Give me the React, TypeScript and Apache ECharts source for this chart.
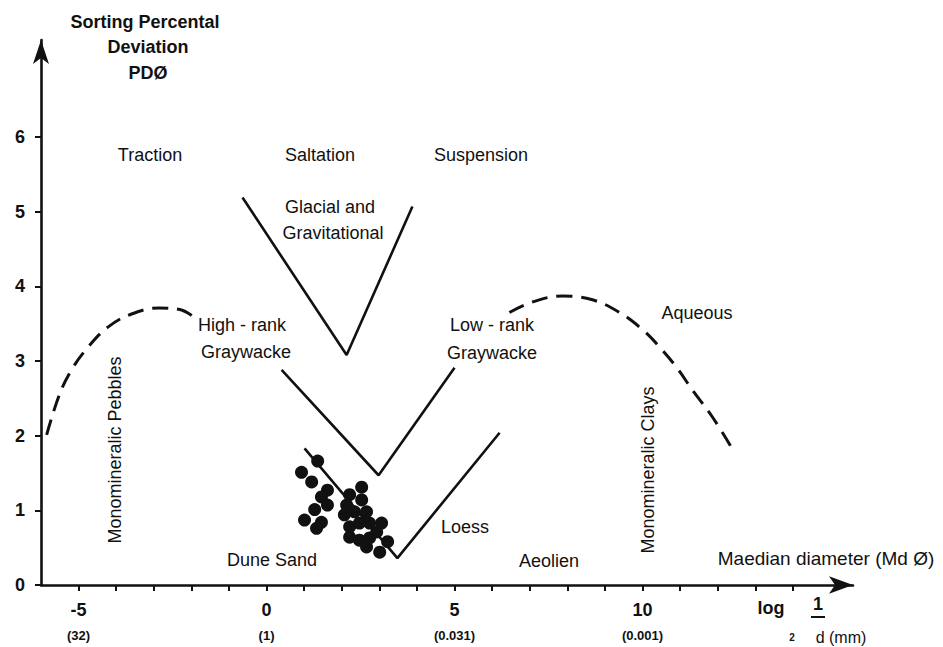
import React, { useEffect, useRef } from "react";
import * as echarts from "echarts";

// ---- data ----
const xTickValues = [-5, 0, 5, 10];
const xTickSub = ["(32)", "(1)", "(0.031)", "(0.001)"];
const xMinorTicks = [-5, -4, -3, -2, -1, 0, 1, 2, 3, 4, 5, 6, 7, 8, 9, 10, 11, 12, 13, 14];
const yTickValues = [0, 1, 2, 3, 4, 5, 6];

const glacialX = [-0.64, 2.13, 3.88];
const glacialY = [5.19, 3.08, 5.07];
const graywackeX = [0.4, 2.98, 5.0];
const graywackeY = [2.88, 1.47, 2.91];
const loessX = [1.01, 3.48, 6.2];
const loessY = [1.83, 0.36, 2.04];

const pebblesX = [-5.85, -5.51, -5.19, -4.76, -4.23, -3.59, -2.85, -2.31, -1.84];
const pebblesY = [2.01, 2.55, 2.88, 3.18, 3.45, 3.63, 3.71, 3.69, 3.55];
const claysX = [6.46, 7.07, 7.87, 8.67, 9.39, 10.0, 10.45, 10.9, 11.33, 11.86, 12.37];
const claysY = [3.65, 3.79, 3.87, 3.82, 3.65, 3.42, 3.19, 2.92, 2.61, 2.25, 1.84];

const sampleX = [1.36, 0.93, 1.2, 1.62, 1.46, 1.62, 1.28, 1.01, 1.46, 1.33, 2.21, 2.53, 2.53, 2.13, 2.34, 2.66, 2.07, 2.21, 2.47, 2.74, 3.06, 2.21, 2.47, 2.74, 2.93, 3.22, 2.66, 3.01];
const sampleY = [1.66, 1.51, 1.38, 1.27, 1.18, 1.07, 1.01, 0.87, 0.84, 0.76, 1.21, 1.31, 1.14, 1.07, 0.98, 0.98, 0.94, 0.78, 0.83, 0.83, 0.83, 0.64, 0.6, 0.63, 0.71, 0.58, 0.51, 0.44];

const FONT = "'Liberation Sans', Arial, Helvetica, sans-serif";
const INK = "#111";

const zip = (xs: number[], ys: number[]) => xs.map((x, i) => [x, ys[i]]);

function txt(text: string, x: number, y: number, size = 18, weight: any = "normal", extra: any = {}) {
  return {
    type: "text",
    x,
    y,
    ...extra,
    style: {
      text,
      fill: INK,
      font: `${weight} ${size}px ${FONT}`,
      align: "center",
      verticalAlign: "middle",
    },
  };
}

export default function App() {
  const ref = useRef<HTMLDivElement>(null);
  useEffect(() => {
    const chart = echarts.init(ref.current!, null, { renderer: "svg" });
    const solid = { color: INK, width: 2.6 };
    const dashed = { color: INK, width: 3, type: [16, 9] as any };
    const option: any = {
      animation: false,
      backgroundColor: "#fff",
      grid: { left: 41, right: 90, top: 40, bottom: 62 },
      xAxis: {
        type: "value",
        min: -6,
        max: 15.6,
        interval: 1,
        axisLine: {
          show: true,
          onZero: false,
          symbol: ["none", "arrow"],
          symbolSize: [13, 24],
          lineStyle: { color: INK, width: 2.6 },
        },
        axisTick: { show: true, length: 6, customValues: xMinorTicks, lineStyle: { color: INK, width: 2 } },
        axisLabel: {
          customValues: xTickValues,
          margin: 13,
          formatter: (v: number) => {
            const i = xTickValues.indexOf(v);
            return `{a|${v}}\n{b|${xTickSub[i]}}`;
          },
          rich: {
            a: { fontSize: 18, fontWeight: "bold", color: INK, fontFamily: FONT, lineHeight: 24 },
            b: { fontSize: 13, fontWeight: "bold", color: INK, fontFamily: FONT, lineHeight: 26 },
          },
        },
        splitLine: { show: false },
      },
      yAxis: {
        type: "value",
        min: 0,
        max: 7.3,
        interval: 1,
        axisLine: {
          show: true,
          onZero: false,
          symbol: ["none", "arrow"],
          symbolSize: [12, 24],
          lineStyle: { color: INK, width: 2.6 },
        },
        axisTick: { show: true, length: 6, customValues: yTickValues, lineStyle: { color: INK, width: 2 } },
        axisLabel: {
          customValues: yTickValues,
          margin: 16,
          fontSize: 18,
          fontWeight: "bold",
          color: INK,
          fontFamily: FONT,
        },
        splitLine: { show: false },
      },
      series: [
        { type: "line", data: zip(glacialX, glacialY), symbol: "none", lineStyle: solid },
        { type: "line", data: zip(graywackeX, graywackeY), symbol: "none", lineStyle: solid },
        { type: "line", data: zip(loessX, loessY), symbol: "none", lineStyle: solid },
        { type: "line", data: zip(pebblesX, pebblesY), symbol: "none", smooth: 0.4, lineStyle: dashed },
        { type: "line", data: zip(claysX, claysY), symbol: "none", smooth: 0.4, lineStyle: dashed },
        {
          type: "scatter",
          data: zip(sampleX, sampleY),
          symbol: "circle",
          symbolSize: 13,
          itemStyle: { color: INK, opacity: 1 },
          z: 5,
        },
      ],
      graphic: [
        txt("Sorting Percental", 145, 22, 18, "bold"),
        txt("Deviation", 148, 47, 18, "bold"),
        txt("PDØ", 148, 73, 18, "bold"),
        txt("Traction", 150, 155),
        txt("Saltation", 320, 155),
        txt("Suspension", 481, 155),
        txt("Glacial and", 330, 207),
        txt("Gravitational", 333, 233),
        txt("High - rank", 242, 325),
        txt("Graywacke", 246, 352),
        txt("Low - rank", 492, 325),
        txt("Graywacke", 492, 353),
        txt("Aqueous", 697, 313),
        txt("Loess", 465, 527),
        txt("Dune Sand", 272, 560),
        txt("Aeolien", 549, 561),
        txt("Maedian diameter (Md Ø)", 826, 558, 19),
        txt("Monomineralic Pebbles", 115, 450, 18, "normal", { rotation: Math.PI / 2 }),
        txt("Monomineralic Clays", 648, 470, 18, "normal", { rotation: Math.PI / 2 }),
        txt("log", 771, 608, 18, "bold"),
        txt("2", 792, 637, 10, "bold"),
        txt("1", 818, 604, 18, "bold"),
        { type: "line", shape: { x1: 811, y1: 617, x2: 825, y2: 617 }, style: { stroke: INK, lineWidth: 2 } },
        txt("d (mm)", 841, 637, 16, "normal"),
      ],
    };
    chart.setOption(option);
    return () => chart.dispose();
  }, []);
  return <div ref={ref} style={{ position: "absolute", left: 0, top: 0, width: 943, height: 647 }} />;
}
